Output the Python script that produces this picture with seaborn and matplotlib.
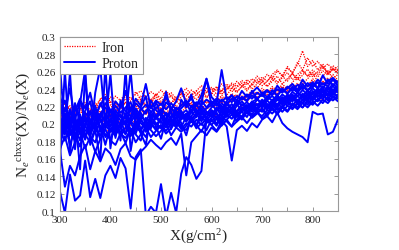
import numpy as np
import pandas as pd
import matplotlib
matplotlib.use("Agg")
import matplotlib.pyplot as plt
from matplotlib.lines import Line2D
from matplotlib.ticker import MultipleLocator
import seaborn as sns

# depth grid, g/cm^2
depth = list(range(300, 851, 10))

# proton showers, ratio values
proton_1 = [0.205, 0.188, 0.214, 0.196, 0.181, 0.209, 0.199, 0.221, 0.192, 0.203,
            0.197, 0.212, 0.204, 0.189, 0.208, 0.216, 0.201, 0.195, 0.211, 0.206,
            0.214, 0.203, 0.219, 0.209, 0.212, 0.205, 0.221, 0.214, 0.218, 0.211,
            0.219, 0.224, 0.215, 0.222, 0.218, 0.227, 0.221, 0.225, 0.219, 0.228,
            0.224, 0.231, 0.227, 0.233, 0.226, 0.234, 0.229, 0.236, 0.231, 0.238,
            0.234, 0.241, 0.236, 0.243, 0.238, 0.242]
proton_2 = [0.183, 0.201, 0.176, 0.195, 0.211, 0.188, 0.179, 0.196, 0.207, 0.185,
            0.194, 0.186, 0.201, 0.209, 0.193, 0.198, 0.207, 0.191, 0.203, 0.199,
            0.206, 0.211, 0.198, 0.207, 0.215, 0.203, 0.209, 0.217, 0.206, 0.213,
            0.211, 0.218, 0.209, 0.216, 0.223, 0.214, 0.219, 0.213, 0.222, 0.217,
            0.225, 0.219, 0.228, 0.222, 0.231, 0.226, 0.233, 0.224, 0.235, 0.229,
            0.238, 0.231, 0.239, 0.234, 0.244, 0.236]
proton_3 = [0.221, 0.199, 0.193, 0.224, 0.201, 0.215, 0.226, 0.198, 0.212, 0.219,
            0.208, 0.221, 0.213, 0.219, 0.225, 0.207, 0.216, 0.222, 0.214, 0.218,
            0.223, 0.217, 0.224, 0.216, 0.221, 0.227, 0.219, 0.225, 0.222, 0.228,
            0.224, 0.229, 0.226, 0.231, 0.225, 0.232, 0.228, 0.234, 0.229, 0.236,
            0.232, 0.238, 0.234, 0.240, 0.236, 0.243, 0.238, 0.245, 0.240, 0.247,
            0.243, 0.251, 0.245, 0.249, 0.253, 0.247]
proton_4 = [0.171, 0.186, 0.164, 0.179, 0.191, 0.172, 0.185, 0.168, 0.183, 0.194,
            0.181, 0.176, 0.189, 0.184, 0.193, 0.179, 0.188, 0.196, 0.185, 0.192,
            0.198, 0.189, 0.195, 0.203, 0.194, 0.201, 0.197, 0.205, 0.199, 0.207,
            0.203, 0.209, 0.201, 0.211, 0.206, 0.213, 0.208, 0.215, 0.211, 0.218,
            0.214, 0.221, 0.216, 0.223, 0.219, 0.226, 0.221, 0.228, 0.224, 0.231,
            0.227, 0.233, 0.229, 0.235, 0.231, 0.234]
proton_5 = [0.232, 0.214, 0.241, 0.205, 0.227, 0.218, 0.236, 0.209, 0.222, 0.231,
            0.213, 0.226, 0.219, 0.238, 0.214, 0.229, 0.221, 0.246, 0.218, 0.227,
            0.222, 0.231, 0.217, 0.226, 0.241, 0.223, 0.229, 0.221, 0.233, 0.252,
            0.231, 0.224, 0.262, 0.228, 0.233, 0.227, 0.238, 0.231, 0.236, 0.242,
            0.235, 0.239, 0.233, 0.244, 0.237, 0.241, 0.246, 0.239, 0.251, 0.243,
            0.248, 0.241, 0.256, 0.246, 0.251, 0.248]
proton_6 = [0.196, 0.209, 0.187, 0.203, 0.195, 0.182, 0.204, 0.213, 0.191, 0.199,
            0.206, 0.193, 0.198, 0.211, 0.202, 0.189, 0.205, 0.197, 0.208, 0.201,
            0.195, 0.207, 0.213, 0.201, 0.196, 0.209, 0.204, 0.198, 0.212, 0.207,
            0.214, 0.206, 0.211, 0.219, 0.213, 0.208, 0.216, 0.221, 0.214, 0.219,
            0.222, 0.216, 0.224, 0.219, 0.226, 0.221, 0.229, 0.224, 0.227, 0.233,
            0.228, 0.236, 0.231, 0.238, 0.233, 0.239]
proton_7 = [0.189, 0.197, 0.208, 0.179, 0.201, 0.193, 0.187, 0.205, 0.198, 0.176,
            0.199, 0.204, 0.186, 0.196, 0.201, 0.212, 0.194, 0.203, 0.197, 0.209,
            0.203, 0.196, 0.208, 0.213, 0.205, 0.211, 0.202, 0.209, 0.215, 0.208,
            0.216, 0.211, 0.205, 0.214, 0.219, 0.211, 0.217, 0.222, 0.216, 0.223,
            0.219, 0.227, 0.221, 0.229, 0.224, 0.231, 0.226, 0.232, 0.228, 0.235,
            0.231, 0.238, 0.233, 0.241, 0.236, 0.240]
proton_8 = [0.214, 0.227, 0.201, 0.218, 0.209, 0.197, 0.215, 0.206, 0.224, 0.211,
            0.203, 0.216, 0.208, 0.201, 0.219, 0.212, 0.206, 0.215, 0.221, 0.209,
            0.217, 0.211, 0.206, 0.219, 0.214, 0.208, 0.216, 0.223, 0.213, 0.218,
            0.222, 0.216, 0.224, 0.218, 0.212, 0.221, 0.226, 0.219, 0.225, 0.229,
            0.223, 0.228, 0.232, 0.227, 0.234, 0.229, 0.237, 0.232, 0.239, 0.234,
            0.241, 0.236, 0.243, 0.239, 0.246, 0.241]
proton_9 = [0.268, 0.192, 0.259, 0.171, 0.224, 0.262, 0.183, 0.236, 0.265, 0.198,
            0.258, 0.184, 0.227, 0.206, 0.261, 0.193, 0.219, 0.232, 0.201, 0.226,
            0.209, 0.237, 0.214, 0.199, 0.228, 0.219, 0.234, 0.211, 0.224, 0.252,
            0.221, 0.229, 0.217, 0.226, 0.233, 0.222, 0.231, 0.226, 0.238, 0.229,
            0.234, 0.227, 0.239, 0.232, 0.241, 0.235, 0.243, 0.237, 0.246, 0.239,
            0.242, 0.248, 0.240, 0.251, 0.244, 0.249]
proton_10 = [0.154, 0.262, 0.167, 0.211, 0.148, 0.257, 0.176, 0.193, 0.158, 0.268,
             0.172, 0.214, 0.181, 0.263, 0.169, 0.204, 0.189, 0.176, 0.211, 0.197,
             0.183, 0.206, 0.194, 0.215, 0.201, 0.187, 0.209, 0.198, 0.216, 0.204,
             0.211, 0.199, 0.217, 0.208, 0.214, 0.203, 0.219, 0.212, 0.221, 0.215,
             0.224, 0.218, 0.227, 0.221, 0.229, 0.224, 0.231, 0.226, 0.234, 0.228,
             0.236, 0.231, 0.238, 0.233, 0.240, 0.237]
proton_11 = [0.123, 0.098, 0.142, 0.112, 0.118, 0.158, 0.116, 0.137, 0.115, 0.141,
             0.152, 0.138, 0.161, 0.149, 0.103, 0.162, 0.171, 0.095, 0.105, 0.098,
             0.131, 0.094, 0.121, 0.098, 0.143, 0.162, 0.153, 0.137, 0.146, 0.206,
             0.199, 0.192, 0.204, 0.197, 0.158, 0.193, 0.198, 0.192, 0.201, 0.196,
             0.205, 0.209, 0.202, 0.213, 0.201, 0.195, 0.191, 0.188, 0.185, 0.179,
             0.214, 0.211, 0.212, 0.188, 0.191, 0.205]
proton_12 = [0.171, 0.128, 0.152, 0.141, 0.163, 0.176, 0.148, 0.169, 0.157, 0.172,
             0.166, 0.153, 0.171, 0.178, 0.163, 0.159, 0.168, 0.174, 0.182, 0.176,
             0.171, 0.179, 0.184, 0.176, 0.189, 0.141, 0.179, 0.186, 0.193, 0.187,
             0.196, 0.191, 0.199, 0.205, 0.197, 0.203, 0.208, 0.201, 0.209, 0.214,
             0.206, 0.212, 0.218, 0.211, 0.219, 0.214, 0.222, 0.217, 0.224, 0.219,
             0.226, 0.221, 0.228, 0.224, 0.231, 0.226]
proton_13 = [0.201, 0.212, 0.194, 0.186, 0.207, 0.198, 0.214, 0.191, 0.203, 0.209,
             0.192, 0.205, 0.211, 0.198, 0.187, 0.206, 0.213, 0.201, 0.195, 0.208,
             0.212, 0.201, 0.207, 0.196, 0.211, 0.216, 0.205, 0.212, 0.203, 0.214,
             0.208, 0.215, 0.221, 0.212, 0.217, 0.223, 0.214, 0.218, 0.224, 0.217,
             0.226, 0.221, 0.225, 0.231, 0.222, 0.228, 0.234, 0.226, 0.232, 0.238,
             0.229, 0.235, 0.241, 0.232, 0.237, 0.245]
proton_14 = [0.178, 0.195, 0.203, 0.188, 0.174, 0.199, 0.185, 0.179, 0.196, 0.188,
             0.183, 0.197, 0.191, 0.178, 0.195, 0.188, 0.181, 0.199, 0.193, 0.186,
             0.192, 0.201, 0.187, 0.196, 0.191, 0.198, 0.206, 0.195, 0.201, 0.193,
             0.205, 0.198, 0.209, 0.203, 0.197, 0.211, 0.205, 0.214, 0.208, 0.213,
             0.209, 0.216, 0.212, 0.219, 0.214, 0.221, 0.217, 0.224, 0.219, 0.226,
             0.222, 0.229, 0.224, 0.231, 0.227, 0.232]
proton_15 = [0.208, 0.194, 0.217, 0.201, 0.189, 0.213, 0.205, 0.196, 0.211, 0.202,
             0.215, 0.207, 0.199, 0.212, 0.204, 0.218, 0.209, 0.203, 0.214, 0.207,
             0.201, 0.213, 0.208, 0.215, 0.209, 0.203, 0.214, 0.208, 0.221, 0.214,
             0.209, 0.219, 0.213, 0.225, 0.218, 0.214, 0.223, 0.217, 0.226, 0.221,
             0.228, 0.223, 0.219, 0.229, 0.224, 0.233, 0.228, 0.236, 0.231, 0.226,
             0.235, 0.239, 0.233, 0.242, 0.237, 0.243]
proton_16 = [0.192, 0.181, 0.198, 0.207, 0.193, 0.186, 0.201, 0.194, 0.187, 0.199,
             0.191, 0.201, 0.196, 0.188, 0.203, 0.197, 0.191, 0.207, 0.201, 0.194,
             0.208, 0.199, 0.204, 0.196, 0.207, 0.212, 0.203, 0.198, 0.209, 0.201,
             0.207, 0.213, 0.204, 0.211, 0.217, 0.209, 0.214, 0.208, 0.219, 0.213,
             0.218, 0.211, 0.222, 0.216, 0.221, 0.215, 0.224, 0.219, 0.228, 0.222,
             0.231, 0.226, 0.233, 0.228, 0.236, 0.231]
proton_17 = [0.226, 0.208, 0.197, 0.215, 0.229, 0.204, 0.193, 0.218, 0.207, 0.224,
             0.216, 0.198, 0.222, 0.215, 0.209, 0.224, 0.218, 0.212, 0.227, 0.216,
             0.211, 0.225, 0.219, 0.211, 0.218, 0.224, 0.213, 0.221, 0.227, 0.219,
             0.226, 0.221, 0.228, 0.223, 0.229, 0.224, 0.231, 0.227, 0.233, 0.228,
             0.236, 0.231, 0.238, 0.233, 0.239, 0.235, 0.241, 0.236, 0.243, 0.238,
             0.246, 0.241, 0.247, 0.243, 0.251, 0.244]
proton_18 = [0.186, 0.204, 0.192, 0.181, 0.198, 0.207, 0.188, 0.201, 0.182, 0.195,
             0.203, 0.189, 0.195, 0.204, 0.186, 0.199, 0.193, 0.185, 0.201, 0.193,
             0.199, 0.192, 0.201, 0.208, 0.197, 0.193, 0.205, 0.199, 0.191, 0.204,
             0.199, 0.206, 0.198, 0.205, 0.211, 0.203, 0.209, 0.216, 0.207, 0.212,
             0.217, 0.209, 0.218, 0.213, 0.219, 0.226, 0.218, 0.223, 0.219, 0.227,
             0.224, 0.228, 0.233, 0.227, 0.231, 0.229]

# iron showers
iron_1 = [0.212, 0.219, 0.207, 0.215, 0.221, 0.209, 0.217, 0.224, 0.213, 0.219,
          0.226, 0.216, 0.223, 0.229, 0.219, 0.225, 0.232, 0.222, 0.228, 0.234,
          0.226, 0.231, 0.224, 0.229, 0.235, 0.228, 0.233, 0.238, 0.231, 0.236,
          0.241, 0.234, 0.239, 0.243, 0.237, 0.242, 0.247, 0.240, 0.245, 0.251,
          0.244, 0.249, 0.255, 0.248, 0.253, 0.259, 0.251, 0.257, 0.262, 0.255,
          0.259, 0.254, 0.261, 0.256, 0.263, 0.258]
iron_2 = [0.203, 0.196, 0.209, 0.201, 0.194, 0.206, 0.199, 0.211, 0.204, 0.198,
          0.209, 0.203, 0.214, 0.207, 0.201, 0.212, 0.206, 0.216, 0.209, 0.213,
          0.208, 0.217, 0.211, 0.219, 0.214, 0.209, 0.218, 0.213, 0.221, 0.216,
          0.223, 0.218, 0.226, 0.221, 0.228, 0.223, 0.231, 0.225, 0.233, 0.228,
          0.235, 0.230, 0.238, 0.232, 0.240, 0.235, 0.243, 0.237, 0.245, 0.239,
          0.247, 0.241, 0.249, 0.244, 0.251, 0.246]
iron_3 = [0.219, 0.226, 0.214, 0.222, 0.217, 0.225, 0.231, 0.221, 0.228, 0.234,
          0.225, 0.232, 0.227, 0.236, 0.229, 0.234, 0.238, 0.231, 0.237, 0.233,
          0.239, 0.232, 0.236, 0.229, 0.235, 0.241, 0.233, 0.238, 0.244, 0.236,
          0.242, 0.238, 0.246, 0.240, 0.247, 0.243, 0.250, 0.245, 0.252, 0.247,
          0.254, 0.249, 0.257, 0.262, 0.255, 0.264, 0.259, 0.268, 0.284, 0.266,
          0.273, 0.262, 0.269, 0.258, 0.264, 0.261]
iron_4 = [0.196, 0.188, 0.201, 0.193, 0.205, 0.197, 0.191, 0.203, 0.208, 0.199,
          0.204, 0.211, 0.201, 0.207, 0.213, 0.205, 0.210, 0.216, 0.208, 0.214,
          0.219, 0.211, 0.217, 0.222, 0.214, 0.219, 0.224, 0.217, 0.222, 0.228,
          0.219, 0.225, 0.231, 0.223, 0.229, 0.234, 0.226, 0.232, 0.237, 0.229,
          0.235, 0.240, 0.232, 0.238, 0.243, 0.236, 0.241, 0.247, 0.239, 0.245,
          0.250, 0.242, 0.248, 0.253, 0.245, 0.251]
iron_5 = [0.207, 0.214, 0.221, 0.211, 0.218, 0.206, 0.213, 0.219, 0.209, 0.216,
          0.222, 0.213, 0.219, 0.225, 0.216, 0.222, 0.228, 0.219, 0.225, 0.231,
          0.222, 0.228, 0.233, 0.225, 0.231, 0.236, 0.228, 0.234, 0.239, 0.231,
          0.237, 0.242, 0.234, 0.240, 0.245, 0.237, 0.243, 0.248, 0.240, 0.246,
          0.251, 0.243, 0.249, 0.255, 0.246, 0.252, 0.258, 0.250, 0.256, 0.263,
          0.254, 0.260, 0.267, 0.257, 0.263, 0.259]
iron_6 = [0.184, 0.193, 0.179, 0.188, 0.196, 0.185, 0.191, 0.198, 0.187, 0.194,
          0.190, 0.197, 0.203, 0.193, 0.199, 0.205, 0.196, 0.201, 0.207, 0.198,
          0.204, 0.209, 0.201, 0.206, 0.211, 0.203, 0.208, 0.214, 0.206, 0.211,
          0.216, 0.208, 0.213, 0.219, 0.211, 0.216, 0.221, 0.213, 0.218, 0.224,
          0.216, 0.221, 0.227, 0.219, 0.224, 0.229, 0.221, 0.227, 0.232, 0.224,
          0.229, 0.235, 0.227, 0.232, 0.238, 0.231]
iron_7 = [0.211, 0.203, 0.216, 0.208, 0.201, 0.213, 0.207, 0.215, 0.211, 0.206,
          0.217, 0.212, 0.208, 0.219, 0.214, 0.221, 0.216, 0.211, 0.223, 0.218,
          0.225, 0.219, 0.214, 0.226, 0.221, 0.227, 0.222, 0.217, 0.229, 0.224,
          0.231, 0.226, 0.233, 0.228, 0.235, 0.230, 0.237, 0.232, 0.239, 0.234,
          0.241, 0.236, 0.243, 0.238, 0.246, 0.240, 0.248, 0.254, 0.246, 0.252,
          0.258, 0.249, 0.255, 0.261, 0.252, 0.257]
iron_8 = [0.215, 0.223, 0.218, 0.212, 0.227, 0.219, 0.224, 0.216, 0.229, 0.222,
          0.231, 0.224, 0.219, 0.233, 0.226, 0.237, 0.228, 0.232, 0.224, 0.235,
          0.229, 0.238, 0.231, 0.226, 0.237, 0.232, 0.239, 0.234, 0.229, 0.241,
          0.235, 0.243, 0.238, 0.246, 0.240, 0.249, 0.243, 0.251, 0.246, 0.255,
          0.249, 0.257, 0.252, 0.261, 0.255, 0.266, 0.258, 0.271, 0.262, 0.276,
          0.266, 0.272, 0.264, 0.269, 0.262, 0.266]
iron_9 = [0.199, 0.207, 0.213, 0.204, 0.198, 0.209, 0.215, 0.206, 0.201, 0.212,
          0.207, 0.214, 0.209, 0.203, 0.216, 0.211, 0.218, 0.213, 0.207, 0.219,
          0.214, 0.221, 0.216, 0.211, 0.223, 0.218, 0.225, 0.220, 0.215, 0.227,
          0.222, 0.229, 0.224, 0.219, 0.231, 0.226, 0.233, 0.228, 0.236, 0.230,
          0.238, 0.233, 0.241, 0.235, 0.243, 0.238, 0.246, 0.240, 0.249, 0.243,
          0.252, 0.246, 0.254, 0.248, 0.257, 0.250]
iron_10 = [0.222, 0.213, 0.205, 0.218, 0.211, 0.223, 0.216, 0.209, 0.221, 0.215,
           0.211, 0.223, 0.217, 0.225, 0.219, 0.214, 0.226, 0.221, 0.228, 0.223,
           0.217, 0.229, 0.224, 0.231, 0.226, 0.221, 0.233, 0.228, 0.235, 0.230,
           0.236, 0.231, 0.239, 0.233, 0.241, 0.236, 0.244, 0.238, 0.246, 0.241,
           0.249, 0.243, 0.252, 0.246, 0.255, 0.249, 0.258, 0.252, 0.261, 0.255,
           0.262, 0.257, 0.265, 0.259, 0.267, 0.262]

proton = [proton_1, proton_2, proton_3, proton_4, proton_5, proton_6, proton_7,
          proton_8, proton_9, proton_10, proton_11, proton_12, proton_13, proton_14,
          proton_15, proton_16, proton_17, proton_18]
iron = [iron_1, iron_2, iron_3, iron_4, iron_5, iron_6, iron_7, iron_8, iron_9, iron_10]


def to_long(showers, name):
    rows = []
    for k, vals in enumerate(showers):
        for x, v in zip(depth, vals):
            rows.append({'X': x, 'ratio': v, 'shower': f'{name}{k}'})
    return pd.DataFrame(rows)


sns.set_theme(style='ticks')
plt.rcParams['font.family'] = ['Liberation Serif', 'DejaVu Serif']
plt.rcParams['mathtext.fontset'] = 'custom'
plt.rcParams['mathtext.rm'] = 'Liberation Serif'
plt.rcParams['mathtext.it'] = 'Liberation Serif:italic'

fig = plt.figure(figsize=(3.99, 2.51), dpi=100)
ax = fig.add_axes([0.150, 0.155, 0.697, 0.694])

df_fe = to_long(iron, 'fe')
df_p = to_long(proton, 'p')

sns.lineplot(data=df_fe, x='X', y='ratio', units='shower', estimator=None,
             color='red', lw=0.9, linestyle=(0, (1, 1)), ax=ax, legend=False)
sns.lineplot(data=df_p, x='X', y='ratio', units='shower', estimator=None,
             color='blue', lw=1.4, ax=ax, legend=False)

ax.set_xlim(300, 850)
ax.set_ylim(0.1, 0.3)
ax.xaxis.set_major_locator(MultipleLocator(100))
ax.xaxis.set_minor_locator(MultipleLocator(50))
ax.set_yticks(np.arange(0.1, 0.301, 0.02))
ax.set_yticklabels(['0.1', '0.12', '0.14', '0.16', '0.18', '0.2', '0.22',
                    '0.24', '0.26', '0.28', '0.3'])
ax.tick_params(which='both', direction='in', top=True, right=True,
               length=3, width=0.6, color='#888888', labelsize=8, pad=3)
for sp in ax.spines.values():
    sp.set_color('#999999')
    sp.set_linewidth(0.8)

ax.set_xlabel(r'X(g/cm$^2$)', fontsize=11, labelpad=2)
ax.set_ylabel(r'N$_e$$^{\mathrm{chxxs}}$(X)/N$_e$(X)', fontsize=11, labelpad=2)

handles = [Line2D([], [], color='red', lw=0.9, linestyle=(0, (1, 1))),
           Line2D([], [], color='blue', lw=1.4)]
leg = ax.legend(handles, ['Iron', 'Proton'], loc='upper left', fontsize=10,
                frameon=True, fancybox=False, framealpha=1, edgecolor='#999999',
                borderaxespad=0, handlelength=2.2, handletextpad=0.5,
                borderpad=0.3, labelspacing=0.2)
leg.get_frame().set_linewidth(0.8)

fig.savefig('out.png', dpi=100)
